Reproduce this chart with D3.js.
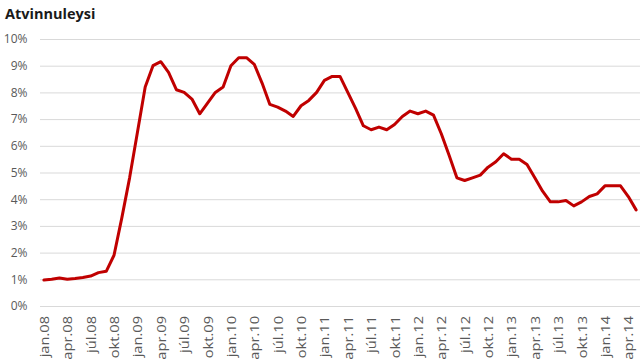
<!DOCTYPE html>
<html><head><meta charset="utf-8">
<script src="https://cdn.jsdelivr.net/npm/d3@7"></script>
<style>body{margin:0;background:#fff;}svg{display:block;}</style>
</head><body>
<script>
const months = ["jan","feb","mar","apr","maí","jún","júl","ágú","sep","okt","nóv","des"];
const years = ["08","09","10","11","12","13","14"];
const values = [
  0.97,1.0,1.05,1.0,1.03,1.07,1.12,1.25,1.3,1.9,3.3,4.8,
  6.5,8.2,9.0,9.15,8.75,8.1,8.0,7.75,7.2,7.6,8.0,8.2,
  9.0,9.3,9.3,9.05,8.35,7.55,7.45,7.3,7.1,7.5,7.7,8.0,
  8.45,8.6,8.6,8.0,7.4,6.75,6.6,6.7,6.6,6.8,7.1,7.3,
  7.2,7.3,7.15,6.45,5.65,4.8,4.7,4.8,4.9,5.2,5.4,5.7,
  5.5,5.5,5.3,4.8,4.3,3.9,3.9,3.95,3.75,3.9,4.1,4.2,
  4.5,4.5,4.5,4.1,3.6
];
const categories = values.map((v,i)=> months[i%12] + "." + years[Math.floor(i/12)]);
const yTicks = [0,1,2,3,4,5,6,7,8,9,10];
const title = "Atvinnuleysi";

const W=640,H=364;
const FONT="'Open Sans', sans-serif";
const svg=d3.select("body").append("svg").attr("width",W).attr("height",H);
const x=d3.scaleBand().domain(categories).range([40,640]);
const y=d3.scaleLinear().domain([0,10]).range([306,39]);

svg.append("text").attr("x",5).attr("y",18.5).text(title)
  .attr("font-family",FONT).attr("font-weight","bold")
  .attr("font-size",14.5).attr("fill","#1a1a1a");

const grid=svg.append("g");
grid.selectAll("line").data(yTicks).join("line")
  .attr("x1",40).attr("x2",640).attr("y1",d=>y(d)+0.5).attr("y2",d=>y(d)+0.5)
  .attr("stroke","#d9d9d9").attr("stroke-width",1);

const yAxis=d3.axisLeft(y).tickValues(yTicks).tickFormat(d=>d+"%").tickSize(0).tickPadding(0);
const gy=svg.append("g").attr("transform","translate(27.5,0)").call(yAxis);
gy.select(".domain").remove();
gy.selectAll("text").attr("font-family",FONT).attr("font-size",12).attr("fill","#595959");

const xLabels=categories.filter((c,i)=>i%3===0);
const xAxis=d3.axisBottom(x).tickValues(xLabels).tickSize(0).tickPadding(0);
const gx=svg.append("g").attr("transform","translate(0,306)").call(xAxis);
gx.select(".domain").remove();
gx.selectAll("text").attr("font-family",FONT).attr("font-size",12).attr("fill","#595959")
  .attr("text-anchor","end").attr("y",0).attr("dy","0.42em")
  .attr("transform","translate(0,10) rotate(-90) scale(1.22,1)");

const line=d3.line().x((d,i)=>x(categories[i])+x.bandwidth()/2).y(d=>y(d));
svg.append("path").datum(values).attr("d",line).attr("fill","none")
  .attr("stroke","#c00000").attr("stroke-width",3).attr("stroke-linejoin","round").attr("stroke-linecap","round");
</script>
</body></html>
